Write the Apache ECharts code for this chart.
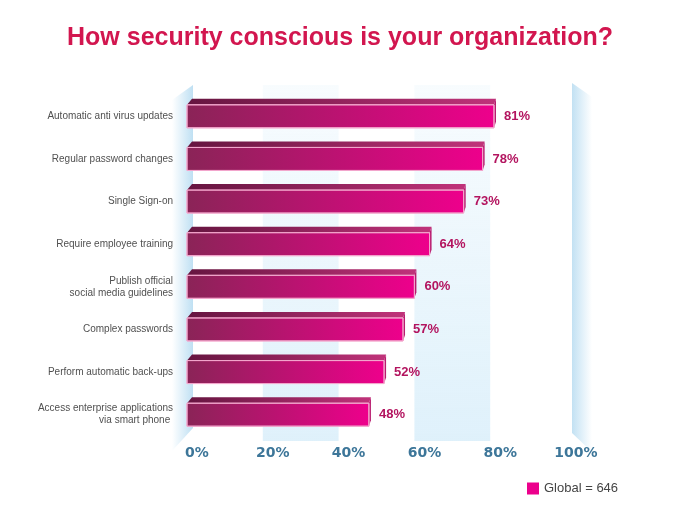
<!DOCTYPE html>
<html>
<head>
<meta charset="utf-8">
<script src="https://cdn.jsdelivr.net/npm/echarts@6/dist/echarts.min.js"></script>
<style>html,body{margin:0;padding:0;background:#fff}#c{width:680px;height:510px}</style>
</head>
<body>
<div id="c"></div>
<script>
const categories = [
  'Automatic anti virus updates',
  'Regular password changes',
  'Single Sign-on',
  'Require employee training',
  'Publish official\nsocial media guidelines',
  'Complex passwords',
  'Perform automatic back-ups',
  'Access enterprise applications\nvia smart phone '
];
const values = [81, 78, 73, 64, 60, 57, 52, 48];
const xTicks = [0, 20, 40, 60, 80, 100];
const seriesName = 'Global = 646';
const bands = [[20, 40], [60, 80]];

const chart = echarts.init(document.getElementById('c'), null, {renderer: 'canvas'});

function renderBar(params, api) {
  const v = api.value(0);
  const idx = api.value(1);
  const p0 = api.coord([0, idx]);
  const p1 = api.coord([v, idx]);
  const h = 23, d = 6;
  const x0 = p0[0], x1 = p1[0];
  const yt = p0[1] - h / 2, yb = p0[1] + h / 2;
  return {
    type: 'group',
    children: [
      {
        type: 'polygon',
        shape: {points: [[x0, yt], [x0 + 5, yt - d], [x1 + 2, yt - d], [x1, yt]]},
        style: {fill: new echarts.graphic.LinearGradient(0, 0, 1, 0, [
          {offset: 0, color: '#661540'}, {offset: 1, color: '#c0337a'}])}
      },
      {
        type: 'polygon',
        shape: {points: [[x1, yt], [x1 + 2, yt - d], [x1 + 2, yb - d], [x1, yb]]},
        style: {fill: '#b81a6e'}
      },
      {
        type: 'rect',
        shape: {x: x0, y: yt, width: x1 - x0, height: h},
        style: {
          fill: new echarts.graphic.LinearGradient(0, 0, 1, 0, [
            {offset: 0, color: '#8a2457'}, {offset: 1, color: '#ee008c'}]),
          stroke: '#f3a6cc', lineWidth: 1
        }
      },
      {
        type: 'text',
        x: x1 + 10, y: p0[1],
        style: {text: v + '%', fill: '#b3145f', font: 'bold 13px "Liberation Sans", Arial, sans-serif',
          verticalAlign: 'middle', align: 'left'}
      }
    ]
  };
}

chart.setOption({
  animation: false,
  title: {
    text: 'How security conscious is your organization?',
    left: 'center', top: 21,
    textStyle: {color: '#d2164f', fontSize: 25, fontWeight: 'bold', fontFamily: '"Liberation Sans", Arial, sans-serif'}
  },
  legend: {
    data: [{name: seriesName, icon: 'rect'}],
    left: 522, top: 477, itemWidth: 12, itemHeight: 12, itemGap: 6,
    textStyle: {color: '#444', fontSize: 13, fontFamily: '"Liberation Sans", Arial, sans-serif'}
  },
  grid: {left: 187, right: 114, top: 95, bottom: 74, containLabel: false},
  xAxis: {
    type: 'value', min: 0, max: 100, interval: 20,
    axisLine: {show: false}, axisTick: {show: false}, splitLine: {show: false},
    axisLabel: {
      formatter: v => xTicks.indexOf(v) >= 0 ? v + '%' : '',
      color: '#3d7699', fontWeight: 'bold', fontSize: 14, margin: 10,
      fontFamily: '"DejaVu Sans", sans-serif', padding: [0, 0, 0, 20]
    }
  },
  yAxis: {
    type: 'category', data: categories, inverse: true,
    axisLine: {show: false}, axisTick: {show: false},
    axisLabel: {color: '#505050', fontSize: 10, margin: 14, lineHeight: 12,
      fontFamily: '"Liberation Sans", Arial, sans-serif', align: 'right'}
  },
  series: [{
    type: 'custom', name: seriesName, z: 5,
    itemStyle: {color: '#ec008c'},
    encode: {x: 0, y: 1},
    data: values.map((v, i) => [v, i]),
    renderItem: renderBar
  }]
});

// background decorations positioned via the axis scales
const X = v => chart.convertToPixel({xAxisIndex: 0}, v);
const bandTop = 85, bandBot = 441;
const g = [];
bands.forEach(b => {
  g.push({
    type: 'rect', z: -10,
    shape: {x: X(b[0]), y: bandTop, width: X(b[1]) - X(b[0]), height: bandBot - bandTop},
    style: {fill: new echarts.graphic.LinearGradient(0, 0, 0, 1, [
      {offset: 0, color: 'rgba(225,242,251,0.25)'}, {offset: 1, color: '#dff1fb'}])}
  });
});
const lx1 = X(0) + 6, lx0 = lx1 - 21;
g.push({
  type: 'polygon', z: -9,
  shape: {points: [[lx0, 100], [lx1, 85], [lx1, 428], [lx0, 451]]},
  style: {fill: new echarts.graphic.LinearGradient(0, 0, 1, 0, [
    {offset: 0, color: 'rgba(255,255,255,1)'}, {offset: 1, color: '#bfe0f3'}])}
});
const rx0 = X(100) + 6, rx1 = rx0 + 20;
g.push({
  type: 'polygon', z: -9,
  shape: {points: [[rx0, 83], [rx1, 97], [rx1, 452], [rx0, 433]]},
  style: {fill: new echarts.graphic.LinearGradient(0, 0, 1, 0, [
    {offset: 0, color: '#c2e1f3'}, {offset: 1, color: 'rgba(255,255,255,1)'}])}
});
chart.setOption({graphic: g});
</script>
</body>
</html>
